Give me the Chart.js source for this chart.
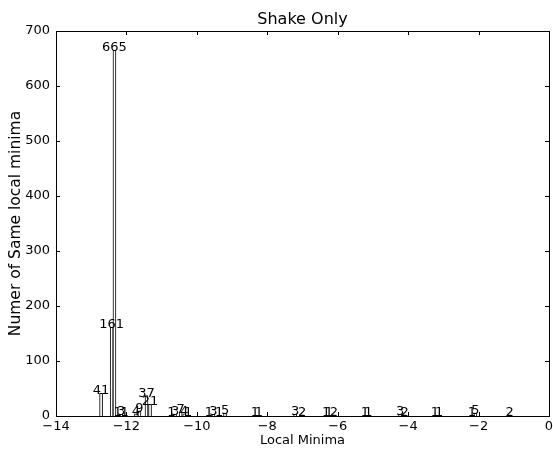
<!DOCTYPE html>
<html>
<head>
<meta charset="utf-8">
<script src="https://cdn.jsdelivr.net/npm/chart.js@4.4.0/dist/chart.umd.min.js"></script>
<style>
  body { margin: 0; background: #fff; }
  #wrap { width: 553px; height: 452px; }
</style>
</head>
<body>
<div id="wrap"><canvas id="histChart"></canvas></div>
<script>
// local minima positions and how often each one shows up
const minimaX = [
  -12.72, -12.42, -12.34, -12.25, -12.15, -12.05, -11.73, -11.63, -11.43, -11.33,
  -10.72, -10.62, -10.46, -10.36, -10.25, -9.66, -9.53, -9.37, -9.20,
  -8.35, -8.24, -7.21, -7.01, -6.33, -6.25, -6.11, -5.23, -5.13,
  -4.23, -4.10, -3.24, -3.12, -2.19, -2.09, -1.12,
];
const counts = [
  41, 161, 665, 1, 3, 1, 4, 9, 37, 21,
  1, 3, 7, 4, 1, 1, 3, 1, 5,
  1, 1, 3, 2, 1, 1, 2, 1, 1,
  3, 2, 1, 1, 1, 5, 2,
];
const xRange = [-14, 0];
const yRange = [0, 700];
const chartTitle = "Shake Only";

Chart.defaults.font.family = "'DejaVu Sans', sans-serif";
Chart.defaults.font.size = 13;
Chart.defaults.color = "#000";

const minus = (v) => (v < 0 ? "\u2212" + Math.abs(v) : String(v));

// box around the plot with ticks pointing inward on all four sides
const frameTicks = {
  id: "frameTicks",
  afterDraw(chart) {
    const { ctx, chartArea: a, scales } = chart;
    const len = 4;
    ctx.save();
    ctx.strokeStyle = "#000";
    ctx.lineWidth = 1;
    ctx.strokeRect(a.left + 0.5, a.top + 0.5, a.right - a.left, a.bottom - a.top);
    ctx.beginPath();
    scales.x.ticks.forEach((t) => {
      const px = Math.round(scales.x.getPixelForValue(t.value)) + 0.5;
      ctx.moveTo(px, a.bottom); ctx.lineTo(px, a.bottom - len);
      ctx.moveTo(px, a.top); ctx.lineTo(px, a.top + len);
    });
    scales.y.ticks.forEach((t) => {
      const py = Math.round(scales.y.getPixelForValue(t.value)) + 0.5;
      ctx.moveTo(a.left, py); ctx.lineTo(a.left + len, py);
      ctx.moveTo(a.right, py); ctx.lineTo(a.right - len, py);
    });
    ctx.stroke();

    // title centred over the plot area
    ctx.font = "16px 'DejaVu Sans', sans-serif";
    ctx.fillStyle = "#000";
    ctx.textAlign = "center";
    ctx.textBaseline = "alphabetic";
    ctx.fillText(chartTitle, (a.left + a.right) / 2, a.top - 7);
    ctx.restore();
  },
};

// count written on top of each bar
const barLabels = {
  id: "barLabels",
  afterDatasetsDraw(chart) {
    const { ctx } = chart;
    const meta = chart.getDatasetMeta(0);
    ctx.save();
    ctx.font = "13px 'DejaVu Sans', sans-serif";
    ctx.fillStyle = "#000";
    ctx.textAlign = "center";
    ctx.textBaseline = "alphabetic";
    meta.data.forEach((bar, i) => {
      ctx.fillText(String(counts[i]), bar.x, bar.y + 1);
    });
    ctx.restore();
  },
};

new Chart(document.getElementById("histChart"), {
  type: "bar",
  data: {
    datasets: [
      {
        data: minimaX.map((x, i) => ({ x, y: counts[i] })),
        backgroundColor: "#ffffff",
        borderColor: "#000000",
        borderWidth: 1,
        barThickness: 3,
      },
    ],
  },
  options: {
    responsive: true,
    maintainAspectRatio: false,
    animation: false,
    layout: { padding: { top: 31, right: 0 } },
    plugins: {
      legend: { display: false },
      tooltip: { enabled: false },
      title: { display: false },
    },
    scales: {
      x: {
        type: "linear",
        min: xRange[0],
        max: xRange[1],
        offset: false,
        grid: { display: false, drawTicks: false, offset: false },
        border: { display: false },
        ticks: { stepSize: 2, padding: 3, maxRotation: 0, callback: minus },
        title: { display: true, text: "Local Minima", padding: { top: 0, bottom: 4 } },
        afterFit(scale) {
          scale.height = 36;
          scale.paddingLeft = 0;
          scale.paddingRight = 4;
        },
      },
      y: {
        min: yRange[0],
        max: yRange[1],
        grid: { display: false, drawTicks: false },
        border: { display: false },
        ticks: { stepSize: 100, padding: 6 },
        title: {
          display: true,
          text: "Numer of Same local minima",
          font: { size: 15.5 },
          padding: { top: 7, bottom: 0 },
        },
        afterFit(scale) { scale.width = 56; },
      },
    },
  },
  plugins: [frameTicks, barLabels],
});
</script>
</body>
</html>
